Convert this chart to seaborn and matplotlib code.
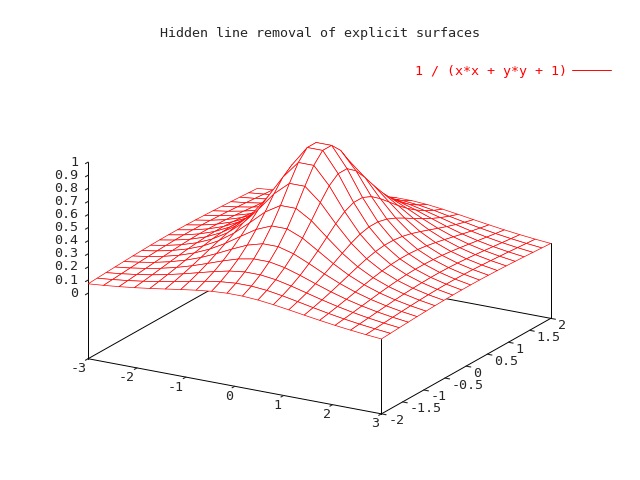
import numpy as np
import seaborn as sns
import matplotlib
matplotlib.use("Agg")
import matplotlib.pyplot as plt
from matplotlib.lines import Line2D
from mpl_toolkits.mplot3d import proj3d

# plotted function and its sampling (gnuplot: isosamples 20, xrange [-3:3], yrange [-2:2])
x_range = [-3, 3]
y_range = [-2, 2]
n_samples = 20
z_ticks = [0, 0.1, 0.2, 0.3, 0.4, 0.5, 0.6, 0.7, 0.8, 0.9, 1]
x_ticks = [-3, -2, -1, 0, 1, 2, 3]
y_ticks = [-2, -1.5, -1, -0.5, 0, 0.5, 1, 1.5, 2]
title = "Hidden line removal of explicit surfaces"
label = "1 / (x*x + y*y + 1)"

sns.set_style("white")
plt.rcParams["font.family"] = ["DejaVu Sans Mono", "DejaVu Sans"]
plt.rcParams["axes.unicode_minus"] = False
FS = 9.6

xs = np.linspace(x_range[0], x_range[1], n_samples)
ys = np.linspace(y_range[0], y_range[1], n_samples)
X, Y = np.meshgrid(xs, ys)
Z = 1 / (X * X + Y * Y + 1)

fig = plt.figure(figsize=(6.4, 4.8), dpi=100)
ax = fig.add_axes([-0.011, -0.014, 1.0, 1.0], projection="3d", proj_type="ortho",
                  computed_zorder=False)
ax.view_init(elev=19, azim=-60)
ax.set_box_aspect((1, 1, 0.614), zoom=1.056)

zbase = -0.5
# back edges of the base and corner verticals
ax.plot([-3, -3, 3], [-2, 2, 2], [zbase, zbase, zbase], color="black", lw=0.7, zorder=1)
for cx, cy in [(3, -2), (3, 2)]:
    ax.plot([cx, cx], [cy, cy], [zbase, 1 / (cx * cx + cy * cy + 1)], color="black",
            lw=0.7, zorder=1)

ax.plot_surface(X, Y, Z, color="white", edgecolor="red", linewidth=0.5,
                shade=False, antialiased=True, rstride=1, cstride=1, zorder=2)

ax.set_xlim(*x_range)
ax.set_ylim(*y_range)
ax.set_zlim(zbase, 1)
ax.set_xticks(x_ticks)
ax.set_yticks(y_ticks)
ax.set_zticks(z_ticks)
ax.set_xticklabels([])
ax.set_yticklabels([])
ax.set_zticklabels([])
ax.zaxis.set_ticks_position("lower")
ax.grid(False)
for axis in (ax.xaxis, ax.yaxis, ax.zaxis):
    axis.pane.fill = False
    axis.pane.set_edgecolor("none")
    axis.line.set_color("black")
    axis.line.set_linewidth(0.7)
    axis._axinfo["tick"]["inward_factor"] = 0.2
    axis._axinfo["tick"]["outward_factor"] = 0.0

# tick labels placed gnuplot-style next to the projected tick positions
fig.canvas.draw()
M = ax.get_proj()
to_fig = fig.transFigure.inverted()


def put_label(x, y, z, text, dx, dy, ha):
    px, py, _ = proj3d.proj_transform(x, y, z, M)
    sx, sy = ax.transData.transform((px, py))
    fx, fy = to_fig.transform((sx + dx, sy + dy))
    fig.text(fx, fy, text, ha=ha, va="center", fontsize=FS)


for t in x_ticks:
    put_label(t, y_range[0], zbase, f"{t:g}", -2, -10, "right")
for t in y_ticks:
    put_label(x_range[1], t, zbase, f"{t:g}", 7, -7, "left")
for t in z_ticks:
    put_label(x_range[0], y_range[0], t, f"{t:g}", -10, 0, "right")

fig.text(0.5, 0.93, title, ha="center", va="center", fontsize=FS)
handle = Line2D([], [], color="red", lw=0.7)
leg = fig.legend([handle], [label], loc="upper right", bbox_to_anchor=(0.973, 0.89),
                 frameon=False, markerfirst=False, handlelength=2.9, handletextpad=0.35,
                 prop={"size": FS})
for t in leg.get_texts():
    t.set_color("red")

fig.savefig("out.png", dpi=100)
